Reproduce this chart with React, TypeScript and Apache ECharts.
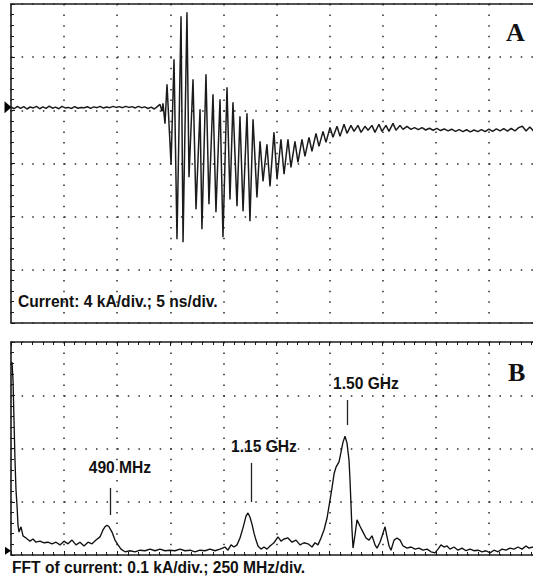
import React, { useEffect, useRef } from "react";
import * as echarts from "echarts";

// ---------- Panel A: current waveform (time in ns, current in kA) ----------
const preTrigger: [number, number][] = [
  [0, 0.25], [0.3, 0.12], [0.6, 0.3], [0.9, 0.15], [1.2, 0.28], [1.5, 0.1], [1.8, 0.25], [2.1, 0.18],
  [2.4, 0.3], [2.7, 0.12], [3.0, 0.26], [3.3, 0.15], [3.6, 0.32], [3.9, 0.16], [4.2, 0.24], [4.5, 0.12],
  [4.8, 0.3], [5.1, 0.18], [5.4, 0.22], [5.7, 0.14], [6.0, 0.28], [6.3, 0.16], [6.6, 0.22], [6.9, 0.2],
  [7.2, 0.27], [7.5, 0.15], [7.8, 0.26], [8.1, 0.2], [8.4, 0.3], [8.7, 0.17], [9.0, 0.25], [9.3, 0.2],
  [9.6, 0.3], [9.9, 0.22], [10.2, 0.28], [10.5, 0.2], [10.8, 0.3], [11.1, 0.22], [11.4, 0.28], [11.7, 0.18],
  [12.0, 0.3], [12.3, 0.2], [12.6, 0.26], [12.9, 0.14], [13.2, 0.24], [13.5, 0.1], [13.8, 0.3],
];

const burst: [number, number][] = [
  [14.03, 0.45], [14.22, -0.08], [14.31, 0.53], [14.5, -1.0], [14.69, 1.96], [15.07, -4.06], [15.35, 3.84],
  [15.63, -9.7], [16.01, 7.07], [16.2, -9.93], [16.57, 7.37], [16.76, -5.04], [17.14, 2.33], [17.42, -7.45],
  [17.8, 0.08], [17.98, -8.95], [18.36, 2.71], [18.64, -7.07], [19.02, 1.2], [19.3, -7.67], [19.68, 0.83],
  [19.96, -9.55], [20.34, 1.73], [20.62, -6.7], [20.9, 0.6], [21.28, -7.22], [21.56, -0.45], [21.85, -7.6],
  [22.22, -0.23], [22.5, -8.35], [22.79, -0.68], [23.16, -6.55], [23.45, -2.33], [23.73, -5.34], [24.1, -2.56],
  [24.39, -5.72], [24.76, -1.66], [25.05, -5.19], [25.42, -2.18], [25.71, -4.81], [26.08, -2.18], [26.36, -4.29],
  [26.74, -2.33], [27.02, -3.91], [27.4, -2.18], [27.68, -3.46], [28.06, -2.03], [28.34, -3.08], [28.72, -1.73],
  [29.0, -2.71], [29.38, -1.58], [29.66, -2.41], [30.04, -1.28], [30.32, -2.03], [30.7, -1.2], [30.98, -1.96],
  [31.36, -1.05], [31.64, -1.73], [32.01, -1.13], [32.3, -1.58], [32.67, -1.13], [32.96, -1.66], [33.33, -1.2],
  [33.62, -1.5], [33.99, -1.13], [34.27, -1.66], [34.65, -1.05], [34.93, -1.58], [35.31, -1.13], [35.59, -1.58],
  [35.97, -0.98], [36.25, -1.5], [36.63, -1.13], [36.91, -1.43], [37.29, -1.2], [37.66, -1.43],
];

const tail: [number, number][] = [
  [38.0, -1.3], [38.35, -1.45], [38.7, -1.3], [39.05, -1.48], [39.4, -1.35], [39.75, -1.5], [40.1, -1.36],
  [40.45, -1.52], [40.8, -1.4], [41.15, -1.55], [41.5, -1.42], [41.85, -1.58], [42.2, -1.45], [42.55, -1.6],
  [42.9, -1.46], [43.25, -1.62], [43.6, -1.48], [43.95, -1.6], [44.3, -1.45], [44.65, -1.6], [45.0, -1.42],
  [45.35, -1.58], [45.7, -1.4], [46.05, -1.55], [46.4, -1.38], [46.75, -1.56], [47.1, -1.36], [47.45, -1.55],
  [47.8, -1.3], [48.15, -1.2], [48.5, -1.56], [48.85, -1.25], [49.2, -1.55],
];

const currentTrace = [...preTrigger, ...burst, ...tail];
const currentZeroMarker: [number, number] = [0, 0.23];

// ---------- Panel B: FFT (frequency in MHz, amplitude in kA) ----------
const spectrumLow: [number, number][] = [
  [0, 0.357], [4.7, 0.362], [9.4, 0.329], [14.1, 0.254], [18.8, 0.178], [23.5, 0.122], [28.2, 0.094],
  [33, 0.056], [37.7, 0.043], [47.1, 0.053], [56.5, 0.036], [70.6, 0.032], [89.5, 0.026], [103.6, 0.03],
  [117.7, 0.024], [136.5, 0.026], [155.4, 0.023], [174.2, 0.024], [193, 0.021], [211.9, 0.024], [230.7, 0.019],
  [249.5, 0.026], [268.4, 0.021], [287.2, 0.028], [306, 0.019], [324.9, 0.024], [343.7, 0.017], [362.5, 0.024],
  [381.3, 0.021], [400.2, 0.028], [419, 0.034], [433.1, 0.047], [442.5, 0.053], [452, 0.056], [461.4, 0.053],
  [475.5, 0.043], [489.6, 0.028], [503.8, 0.019], [517.9, 0.011], [536.7, 0.006], [560.3, 0.008], [583.8, 0.006],
  [607.3, 0.009], [630.9, 0.008], [654.4, 0.011], [678, 0.008], [701.5, 0.011], [725, 0.008], [748.6, 0.009],
  [772.1, 0.008], [795.7, 0.011], [819.2, 0.008], [842.7, 0.009], [866.3, 0.006], [889.8, 0.009], [913.4, 0.008],
  [936.9, 0.011], [960.4, 0.008], [984, 0.011],
];

const spectrumMid: [number, number][] = [
  [1007.5, 0.015], [1021.6, 0.009], [1035.8, 0.019], [1049.9, 0.015], [1064, 0.019], [1078.1, 0.032],
  [1092.3, 0.051], [1106.4, 0.073], [1115.8, 0.079], [1125.2, 0.071], [1134.6, 0.058], [1144.1, 0.041],
  [1153.5, 0.028], [1162.9, 0.017], [1177, 0.011], [1191.1, 0.015], [1205.2, 0.011], [1219.4, 0.017],
  [1238.2, 0.023], [1257, 0.034], [1271.2, 0.026], [1285.3, 0.03], [1304.1, 0.032], [1322.9, 0.024],
  [1341.8, 0.028], [1360.6, 0.019], [1379.4, 0.023], [1398.3, 0.021], [1417.1, 0.015], [1431.2, 0.023],
  [1445.4, 0.019],
];

const spectrumHigh: [number, number][] = [
  [1459.5, 0.032], [1473.6, 0.047], [1487.8, 0.069], [1501.9, 0.103], [1511.3, 0.126], [1520.8, 0.152],
  [1530.2, 0.165], [1544.3, 0.175], [1553.7, 0.193], [1563.1, 0.212], [1572.6, 0.223], [1582, 0.21],
  [1591.4, 0.178], [1596.1, 0.141], [1600.8, 0.094], [1605.5, 0.047], [1610.3, 0.013], [1619.7, 0.038],
  [1629.1, 0.066], [1643.2, 0.054], [1657.4, 0.043], [1671.5, 0.032], [1685.6, 0.028], [1699.7, 0.036],
  [1713.9, 0.019], [1723.3, 0.013], [1737.4, 0.024], [1751.5, 0.041], [1761, 0.053], [1770.4, 0.034],
  [1779.8, 0.017], [1789.2, 0.009], [1803.3, 0.028], [1817.5, 0.032], [1831.6, 0.028], [1845.7, 0.017],
  [1864.5, 0.013], [1883.4, 0.015], [1902.2, 0.011], [1921, 0.013], [1939.9, 0.009], [1958.7, 0.011],
  [1977.4, 0.006], [1996.2, 0.004], [2010.4, 0.011], [2024.4, 0.019], [2038.6, 0.015], [2052.7, 0.017],
  [2066.8, 0.011], [2085.6, 0.015], [2104.5, 0.009], [2123.3, 0.013], [2142.1, 0.008], [2161, 0.011],
  [2179.8, 0.008], [2198.6, 0.009], [2217.5, 0.006], [2236.3, 0.008], [2255.1, 0.004], [2274, 0.009],
  [2292.8, 0.006], [2311.6, 0.011], [2330.5, 0.009], [2349.3, 0.013], [2368.1, 0.011], [2387, 0.015],
  [2405.8, 0.011], [2424.6, 0.017], [2438.8, 0.013], [2457.6, 0.015],
];

const spectrum = [...spectrumLow, ...spectrumMid, ...spectrumHigh];

const peakLabels = ["490 MHz", "1.15 GHz", "1.50 GHz"];
const peakLabelPos: [number, number][] = [[513, 0.165], [1191, 0.203], [1671, 0.323]];
const peakTickFreq = [466, 1130, 1582];
const peakTickRange: [number, number][] = [[0.075, 0.126], [0.0995, 0.173], [0.244, 0.291]];
const fftZeroMarker: [number, number] = [0, 0.004];

const captionA = "Current: 4 kA/div.; 5 ns/div.";
const captionB = "FFT of current: 0.1 kA/div.; 250 MHz/div.";

const INK = "#1c1c1c";
const SANS = '"Liberation Sans", Arial, sans-serif';
const SERIF = '"Liberation Serif", "Times New Roman", serif';
const dotted = { color: "#2a2a2a", width: 1.5, type: [1.5, 9.12] as number[] };

const hidden = { show: false };

function buildOption(): any {
  return {
    animation: false,
    backgroundColor: "#ffffff",
    grid: [
      { left: 11, top: 4, width: 531, height: 319, show: true, borderColor: INK, borderWidth: 1.6, backgroundColor: "transparent" },
      { left: 11, top: 342, width: 531, height: 213, show: true, borderColor: INK, borderWidth: 1.6, backgroundColor: "transparent" },
    ],
    xAxis: [
      {
        gridIndex: 0, type: "value", min: 0, max: 50, interval: 5,
        axisLine: hidden, axisTick: hidden, axisLabel: hidden,
        splitLine: { show: true, lineStyle: dotted },
      },
      {
        gridIndex: 1, type: "value", min: 0, max: 2500, interval: 250, position: "bottom",
        axisLine: hidden, axisLabel: hidden,
        axisTick: { show: true, inside: true, length: 4, lineStyle: { color: INK } },
        minorTick: { show: true, splitNumber: 5, length: 3, lineStyle: { color: INK } },
        splitLine: { show: true, lineStyle: dotted },
      },
      {
        gridIndex: 1, type: "value", min: 0, max: 2500, interval: 250, position: "top",
        axisLine: hidden, axisLabel: hidden, splitLine: hidden,
        axisTick: { show: true, inside: true, length: 4, lineStyle: { color: INK } },
        minorTick: { show: true, splitNumber: 5, length: 3, lineStyle: { color: INK } },
      },
    ],
    yAxis: [
      {
        gridIndex: 0, type: "value", min: -16, max: 8, interval: 4,
        axisLine: hidden, axisLabel: hidden,
        axisTick: { show: true, inside: true, length: 4, lineStyle: { color: INK } },
        minorTick: { show: true, splitNumber: 5, length: 3, lineStyle: { color: INK } },
        splitLine: { show: true, lineStyle: dotted },
      },
      {
        gridIndex: 1, type: "value", min: 0, max: 0.4, interval: 0.1,
        axisLine: hidden, axisLabel: hidden,
        axisTick: { show: true, inside: true, length: 4, lineStyle: { color: INK } },
        minorTick: { show: true, splitNumber: 5, length: 3, lineStyle: { color: INK } },
        splitLine: { show: true, lineStyle: dotted },
      },
    ],
    series: [
      {
        type: "line", xAxisIndex: 0, yAxisIndex: 0, data: currentTrace,
        showSymbol: false, silent: true,
        lineStyle: { color: INK, width: 1.5 },
        markPoint: {
          silent: true,
          data: [{ coord: currentZeroMarker }],
          symbol: "triangle", symbolSize: [12, 7], symbolRotate: -90, symbolOffset: [-3, 0],
          itemStyle: { color: "#000" }, label: hidden,
        },
      },
      {
        type: "line", xAxisIndex: 1, yAxisIndex: 1, data: spectrum,
        showSymbol: false, silent: true,
        lineStyle: { color: "#111", width: 1.35 },
        markLine: {
          silent: true, symbol: ["none", "none"], label: hidden,
          lineStyle: { color: "#222", width: 1.3, type: "solid" },
          data: peakTickFreq.map((f, i) => [{ coord: [f, peakTickRange[i][0]] }, { coord: [f, peakTickRange[i][1]] }]),
        },
        markPoint: {
          silent: true,
          data: [
            ...peakLabels.map((name, i) => ({
              name, coord: peakLabelPos[i], symbol: "circle", symbolSize: 1,
              itemStyle: { color: "rgba(0,0,0,0)" },
              label: { show: true, position: "inside", formatter: "{b}", color: "#111", fontWeight: "bold", fontSize: 15.6, fontFamily: SANS },
            })),
            {
              name: "ref", coord: fftZeroMarker, symbol: "triangle", symbolSize: [8, 6], symbolRotate: -90, symbolOffset: [-3, -2],
              itemStyle: { color: "#000" }, label: hidden,
            },
          ],
        },
      },
    ],
    graphic: [
      { type: "text", x: 18, y: 301, silent: true, style: { text: captionA, fill: "#111", fontSize: 15.6, fontWeight: "bold", fontFamily: SANS, verticalAlign: "middle" } },
      { type: "text", x: 12, y: 567, silent: true, style: { text: captionB, fill: "#111", fontSize: 15.6, fontWeight: "bold", fontFamily: SANS, verticalAlign: "middle" } },
      { type: "text", x: 506, y: 32, silent: true, style: { text: "A", fill: "#111", fontSize: 26, fontWeight: "bold", fontFamily: SERIF, verticalAlign: "middle" } },
      { type: "text", x: 508, y: 372, silent: true, style: { text: "B", fill: "#111", fontSize: 26, fontWeight: "bold", fontFamily: SERIF, verticalAlign: "middle" } },
    ],
  };
}

export default function App() {
  const ref = useRef<HTMLDivElement>(null);
  useEffect(() => {
    if (!ref.current) return;
    const chart = echarts.init(ref.current, null, { renderer: "svg" });
    chart.setOption(buildOption());
    return () => chart.dispose();
  }, []);
  return (
    <div style={{ position: "fixed", left: 0, top: 0, width: 533, height: 577, overflow: "hidden", background: "#fff" }}>
      <div ref={ref} style={{ width: 560, height: 577 }} />
    </div>
  );
}
